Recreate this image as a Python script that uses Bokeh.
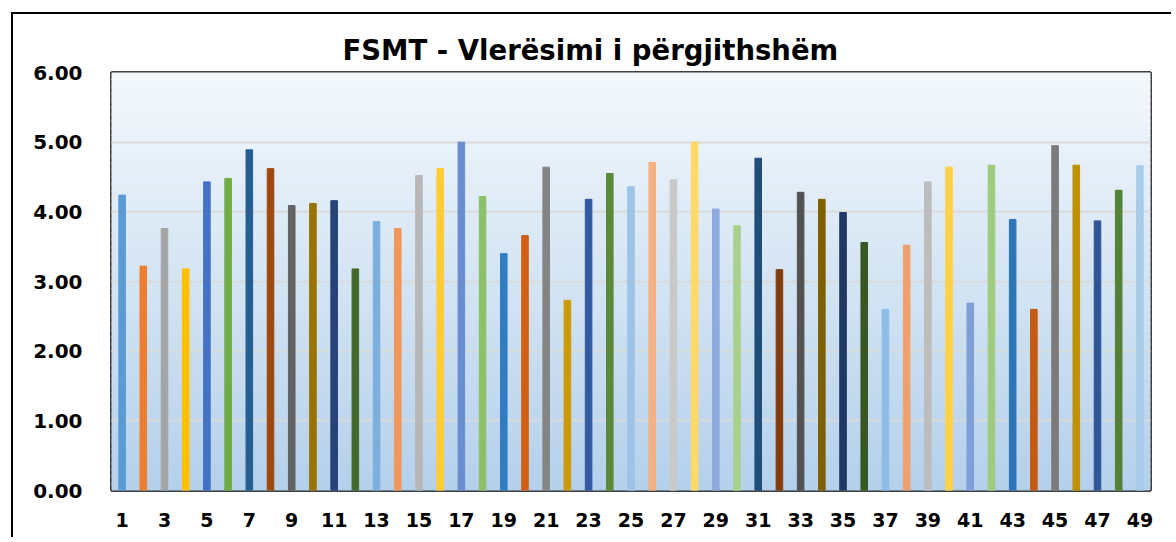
from bokeh.plotting import figure
from bokeh.models import Range1d, FixedTicker, NumeralTickFormatter, ColumnDataSource
from bokeh.embed import file_html
from bokeh.resources import INLINE

# ---- data ----
categories = list(range(1, 50))
values = [4.24, 3.22, 3.76, 3.18, 4.43, 4.48, 4.89, 4.62, 4.09, 4.12,
          4.16, 3.18, 3.86, 3.76, 4.52, 4.62, 5.00, 4.22, 3.40, 3.66,
          4.64, 2.73, 4.18, 4.55, 4.36, 4.71, 4.46, 5.00, 4.04, 3.80,
          4.77, 3.17, 4.28, 4.18, 3.99, 3.56, 2.60, 3.52, 4.43, 4.64,
          2.69, 4.67, 3.89, 2.60, 4.95, 4.67, 3.87, 4.31, 4.66]
bar_colors = ["#5B9BD5", "#ED7D31", "#A5A5A5", "#FFC000", "#4472C4", "#70AD47",
              "#255E91", "#9E480E", "#636363", "#997300", "#264478", "#43682B",
              "#7CAFDD", "#F1975A", "#B7B7B7", "#FFCD33", "#698ED0", "#8CC168",
              "#327DC2", "#D26012", "#848484", "#CC9A00", "#335AA1", "#5A8A39",
              "#9DC3E6", "#F4B183", "#C9C9C9", "#FFD966", "#8FAADC", "#A9D18E",
              "#1F4E79", "#843C0C", "#525252", "#7F6000", "#203864", "#385723",
              "#8DBDE6", "#F0A06C", "#BDBDBD", "#FFD147", "#7F9FD8", "#9ECB7E",
              "#2E75B6", "#C55A11", "#7B7B7B", "#BF9000", "#2F5597", "#538135",
              "#A9CCEB"]
y_ticks = [0, 1, 2, 3, 4, 5, 6]
x_ticks = list(range(1, 50, 2))
title_text = "FSMT - Vlerësimi i përgjithshëm"

FONT = "DejaVu Sans"

p = figure(width=1160, height=525, output_backend="svg", toolbar_location=None,
           x_range=Range1d(0.5, 49.5), y_range=Range1d(0, 6),
           min_border_left=98, min_border_top=58, min_border_right=23,
           min_border_bottom=49)
p.margin = (12, 0, 0, 11)
p.styles = {"border-left": "2px solid black", "border-top": "2px solid black"}

# gradient background (decoration)
n = 60
top_c = (0xF4, 0xF8, 0xFC)
bot_c = (0xB4, 0xD0, 0xEB)
bands_b, bands_t, bands_c = [], [], []
for i in range(n):
    b = 6.0 * i / n
    t = 6.0 * (i + 1) / n
    f = (i + 0.5) / n
    c = tuple(int(round(bot_c[k] + (top_c[k] - bot_c[k]) * f)) for k in range(3))
    bands_b.append(b)
    bands_t.append(t)
    bands_c.append("#%02X%02X%02X" % c)
p.quad(left=0.5, right=49.5, bottom=bands_b, top=bands_t, fill_color=bands_c,
       line_color=bands_c, line_width=1.5, level="image")

src = ColumnDataSource(dict(x=categories, top=values, color=bar_colors))
p.vbar(x="x", top="top", width=0.31, color="color", source=src)

p.title.text = title_text
p.title.align = "left"
p.title.offset = 231
p.title.text_font = FONT
p.title.text_font_size = "27.5px"
p.title.text_font_style = "bold"
p.title.text_color = "black"
p.title.standoff = 13

p.outline_line_color = "black"
p.outline_line_width = 2.5

p.xgrid.grid_line_color = None
p.ygrid.grid_line_color = "#D9D9D9"
p.ygrid.grid_line_width = 2
p.ygrid.ticker = FixedTicker(ticks=y_ticks)

p.yaxis.ticker = FixedTicker(ticks=y_ticks)
p.yaxis.formatter = NumeralTickFormatter(format="0.00")
p.xaxis.ticker = FixedTicker(ticks=x_ticks)
for ax in (p.xaxis[0], p.yaxis[0]):
    ax.axis_line_color = None
    ax.major_tick_line_color = None
    ax.minor_tick_line_color = None
    ax.major_label_text_font = FONT
    ax.major_label_text_font_style = "bold"
    ax.major_label_text_color = "black"
p.yaxis.major_label_text_font_size = "20px"
p.xaxis.major_label_text_font_size = "19px"
p.yaxis.major_label_standoff = 23
p.xaxis.major_label_standoff = 16

open("out.html", "w").write(file_html(p, INLINE))
